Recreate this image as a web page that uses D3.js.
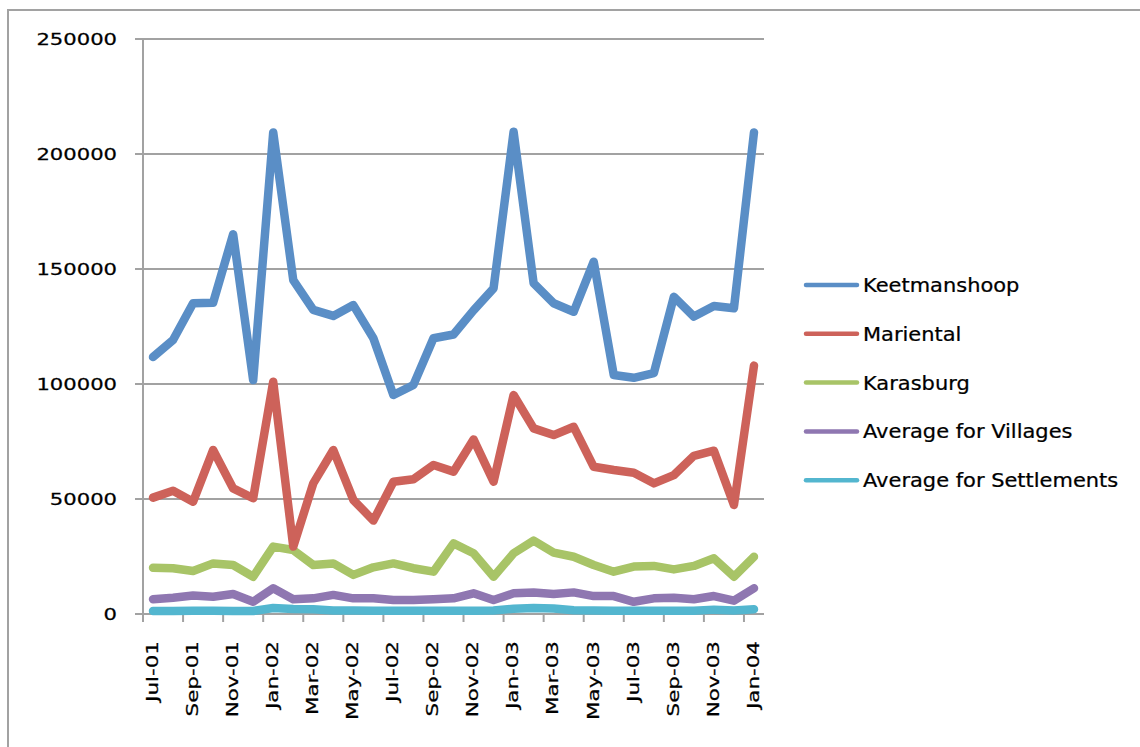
<!DOCTYPE html>
<html>
<head>
<meta charset="utf-8">
<script src="https://cdn.jsdelivr.net/npm/d3@7"></script>
<style>
  body { margin: 0; background: #fff; }
  svg text { font-family: "DejaVu Sans", sans-serif; fill: #000; stroke: #000; stroke-width: 0.25px; }
</style>
</head>
<body>
<div class="chart-wrapper"></div>
<script>
// monthly categories, Jul-01 .. Jan-04
const months = [
  "Jul-01", "Aug-01", "Sep-01", "Oct-01", "Nov-01", "Dec-01",
  "Jan-02", "Feb-02", "Mar-02", "Apr-02", "May-02", "Jun-02",
  "Jul-02", "Aug-02", "Sep-02", "Oct-02", "Nov-02", "Dec-02",
  "Jan-03", "Feb-03", "Mar-03", "Apr-03", "May-03", "Jun-03",
  "Jul-03", "Aug-03", "Sep-03", "Oct-03", "Nov-03", "Dec-03",
  "Jan-04"
];

const keetmanshoop = [
  111700, 119100, 135100, 135300, 165100, 101700, 209400, 145200,
  132200, 129600, 134300, 119900, 95200, 99600, 119900, 121500,
  132000, 141600, 209700, 143800, 135100, 131400, 153200, 103900,
  102700, 104700, 137900, 129300, 133900, 132900, 209400
];
const mariental = [
  50600, 53600, 48800, 71300, 54600, 50300, 101000, 29300,
  56800, 71300, 49600, 40600, 57500, 58600, 64800, 61900,
  75900, 57500, 95200, 80700, 77800, 81400, 64000, 62600,
  61400, 56800, 60400, 68800, 71000, 47400, 108000
];
const karasburg = [
  20100, 19900, 18700, 22000, 21300, 16200, 29300, 27800,
  21300, 22000, 17000, 20300, 22000, 19900, 18400, 30700,
  26400, 16200, 26400, 31900, 26700, 24900, 21300, 18400,
  20600, 20900, 19400, 20900, 24200, 16200, 24900
];
const villages = [
  6400, 7100, 8000, 7500, 8700, 5300, 11200, 6400,
  6800, 8300, 6800, 6800, 6100, 6100, 6400, 6800,
  9000, 6100, 9000, 9300, 8700, 9400, 7800, 7800,
  5300, 6800, 7100, 6400, 7800, 5800, 11200
];
const settlements = [
  1300, 1300, 1400, 1400, 1300, 1300, 2600, 2200,
  2100, 1500, 1500, 1400, 1400, 1400, 1400, 1400,
  1400, 1500, 2300, 2600, 2400, 1600, 1500, 1400,
  1400, 1400, 1400, 1400, 1900, 1500, 2100
];

const seriesNames = ["Keetmanshoop", "Mariental", "Karasburg", "Average for Villages", "Average for Settlements"];
const seriesColors = ["#5a8ec6", "#cd625a", "#a8c467", "#8f77b1", "#53b6cf"];
const yTicks = [0, 50000, 100000, 150000, 200000, 250000];

const series = [keetmanshoop, mariental, karasburg, villages, settlements]
  .map((values, i) => ({ name: seriesNames[i], color: seriesColors[i], values }));

const width = 1140, height = 747;
const plot = { left: 143, right: 764, top: 39, bottom: 614 };
const gridColor = "#a2a2a2";

const svg = d3.select(".chart-wrapper")
  .append("svg")
  .attr("width", width)
  .attr("height", height);

// outer chart frame (runs off the right and bottom edges)
svg.append("rect")
  .attr("x", 8).attr("y", 10)
  .attr("width", width + 20).attr("height", height + 20)
  .attr("fill", "none")
  .attr("stroke", gridColor)
  .attr("stroke-width", 2);

const x = d3.scaleBand()
  .domain(months)
  .range([plot.left, plot.right])
  .paddingInner(0)
  .paddingOuter(0);

const y = d3.scaleLinear()
  .domain([0, 250000])
  .range([plot.bottom, plot.top]);

// horizontal gridlines + y ticks
svg.append("g")
  .selectAll("line")
  .data(yTicks)
  .join("line")
  .attr("x1", plot.left - 8)
  .attr("x2", plot.right)
  .attr("y1", d => y(d))
  .attr("y2", d => y(d))
  .attr("stroke", gridColor)
  .attr("stroke-width", 2);

// y axis line
svg.append("line")
  .attr("x1", plot.left).attr("x2", plot.left)
  .attr("y1", plot.top).attr("y2", plot.bottom + 8)
  .attr("stroke", gridColor)
  .attr("stroke-width", 2);

// y labels (stretched a little to match the original's wide lettering)
svg.append("g")
  .selectAll("text")
  .data(yTicks)
  .join("text")
  .attr("transform", d => `translate(117,${y(d)}) scale(1.28,1)`)
  .attr("text-anchor", "end")
  .attr("dy", "0.35em")
  .style("font-size", "16.5px")
  .text(d => d);

// x tick marks every second category boundary
const tickIdx = d3.range(0, months.length, 2);
svg.append("g")
  .selectAll("line")
  .data(tickIdx)
  .join("line")
  .attr("x1", i => x(months[i]))
  .attr("x2", i => x(months[i]))
  .attr("y1", plot.bottom)
  .attr("y2", plot.bottom + 8)
  .attr("stroke", gridColor)
  .attr("stroke-width", 2);

// x labels, rotated
svg.append("g")
  .selectAll("text")
  .data(tickIdx)
  .join("text")
  .attr("transform", i => `translate(${x(months[i]) + x.bandwidth() / 2 - 1},641) rotate(-90) scale(1.3,1)`)
  .attr("text-anchor", "end")
  .attr("dy", "0.35em")
  .style("font-size", "16.5px")
  .text(i => months[i]);

// lines
const line = d3.line()
  .x((d, i) => x(months[i]) + x.bandwidth() / 2)
  .y(d => y(d));

svg.append("g")
  .selectAll("path")
  .data(series.slice().reverse())
  .join("path")
  .attr("d", d => line(d.values))
  .attr("fill", "none")
  .attr("stroke", d => d.color)
  .attr("stroke-width", 8.5)
  .attr("stroke-linejoin", "round")
  .attr("stroke-linecap", "round");

// legend
const legend = svg.append("g")
  .selectAll("g")
  .data(series)
  .join("g")
  .attr("transform", (d, i) => `translate(0,${285 + i * 48.8})`);

legend.append("line")
  .attr("x1", 806).attr("x2", 857)
  .attr("y1", 0).attr("y2", 0)
  .attr("stroke", d => d.color)
  .attr("stroke-width", 4.5)
  .attr("stroke-linecap", "round");

legend.append("text")
  .attr("transform", "translate(863,0) scale(1.075,1)")
  .attr("dy", "0.36em")
  .style("font-size", "19.5px")
  .text(d => d.name);
</script>
</body>
</html>
